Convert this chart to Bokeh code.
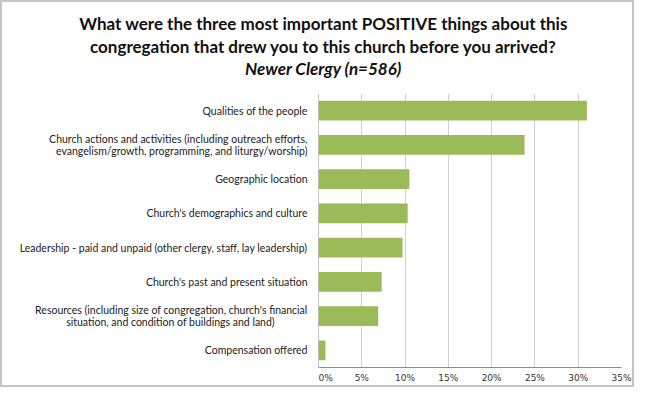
from bokeh.plotting import figure
from bokeh.models import FactorRange, Range1d, NumeralTickFormatter, FixedTicker, Span, ColumnDataSource, Spacer
from bokeh.layouts import column, row
from bokeh.core.properties import value
from bokeh.embed import file_html
from bokeh.resources import INLINE

categories = [
    "Qualities of the people",
    "Church actions and activities (including outreach efforts,\nevangelism/growth, programming, and liturgy/worship)",
    "Geographic location",
    "Church's demographics and culture",
    "Leadership - paid and unpaid (other clergy, staff, lay leadership)",
    "Church's past and present situation",
    "Resources (including size of congregation, church's financial\nsituation, and condition of buildings and land)",
    "Compensation offered",
]
values = [0.310, 0.238, 0.105, 0.103, 0.097, 0.073, 0.069, 0.008]
x_ticks = [0.0, 0.05, 0.10, 0.15, 0.20, 0.25, 0.30, 0.35]
title_lines = [
    "What were the three most important POSITIVE things about this",
    "congregation that drew you to this church before you arrived?",
    "Newer Clergy (n=586)",
]

TOTAL_W, TOTAL_H = 634, 387
B = 2                      # border thickness
BORDER_COLOR = "#C4C4C4"
INNER_W = TOTAL_W - 2 * B
TITLE_H = 78
LABEL_W = 316
MAIN_W = INNER_W - LABEL_W
ROW_H = TOTAL_H - 2 * B - TITLE_H
TOP, BOTTOM = 13, 17

y_range = FactorRange(*reversed(categories))

# ---- title ----
tf = figure(width=INNER_W, height=TITLE_H, x_range=Range1d(0, INNER_W), y_range=Range1d(0, TITLE_H),
            output_backend="svg", toolbar_location=None, min_border=0)
tf.axis.visible = False
tf.grid.visible = False
tf.outline_line_color = None
t_src = ColumnDataSource(dict(
    x=[321] * 3,
    y=[TITLE_H - 21, TITLE_H - 44, TITLE_H - 66],
    text=title_lines,
    style=["bold", "bold", "bold italic"],
))
tf.text(x="x", y="y", text="text", source=t_src, text_align="center", text_baseline="middle",
        text_font=value("Lato"), text_font_size="17px", text_font_style="style", text_color="#111111")

# ---- category labels ----
lf = figure(width=LABEL_W, height=ROW_H, x_range=Range1d(0, LABEL_W), y_range=y_range,
            output_backend="svg", toolbar_location=None,
            min_border_left=0, min_border_right=0, min_border_top=TOP, min_border_bottom=BOTTOM)
lf.axis.visible = False
lf.grid.visible = False
lf.outline_line_color = None
right_edge = LABEL_W - 11
centered_lines = {(6, 1): 168}
ly, lt, lx, la, lo = [], [], [], [], []
for i, cat in enumerate(categories):
    lines = cat.split("\n")
    n = len(lines)
    for j, ln in enumerate(lines):
        ly.append(cat)
        lt.append(ln)
        lo.append((j - (n - 1) / 2) * 12.5)
        if (i, j) in centered_lines:
            lx.append(centered_lines[(i, j)])
            la.append("center")
        else:
            lx.append(right_edge)
            la.append("right")
l_src = ColumnDataSource(dict(x=lx, y=ly, text=lt, align=la, off=lo))
lf.text(x="x", y="y", text="text", source=l_src, text_align="align", y_offset="off",
        text_baseline="middle", text_font=value("Lato"), text_font_size="10.5px", text_color="#222222")

# ---- main plot ----
p = figure(width=MAIN_W, height=ROW_H, y_range=y_range, x_range=Range1d(0, 0.35),
           output_backend="svg", toolbar_location=None,
           min_border_left=0, min_border_right=MAIN_W - 303, min_border_top=TOP, min_border_bottom=BOTTOM)
p.hbar(y=categories, right=values, height=0.58, color="#9BBB59", line_color=None)
p.outline_line_color = None
p.yaxis.visible = False
p.ygrid.grid_line_color = None
p.xgrid.grid_line_color = "#A0A0A0"
p.xgrid.grid_line_dash = "1 1"
p.add_layout(Span(location=0, dimension="height", line_color="#8C8C8C", line_width=1))

p.xaxis.ticker = FixedTicker(ticks=x_ticks)
p.xaxis.formatter = NumeralTickFormatter(format="0%")
p.xaxis.axis_line_color = "#8C8C8C"
p.xaxis.major_tick_line_color = None
p.xaxis.minor_tick_line_color = None
p.xaxis.major_tick_out = 0
p.xaxis.major_tick_in = 0
p.xaxis.major_label_text_font = "DejaVu Sans"
p.xaxis.major_label_text_font_size = "9px"
p.xaxis.major_label_text_color = "#333333"
p.xaxis.major_label_standoff = 5

bg = {"background-color": BORDER_COLOR}
inner_h = TOTAL_H - 2 * B
layout = column(
    Spacer(width=TOTAL_W, height=B, styles=bg),
    row(
        Spacer(width=B, height=inner_h, styles=bg),
        column(tf, row(lf, p)),
        Spacer(width=B, height=inner_h, styles=bg),
    ),
    Spacer(width=TOTAL_W, height=B, styles=bg),
)

open("out.html", "w").write(file_html(layout, INLINE))
